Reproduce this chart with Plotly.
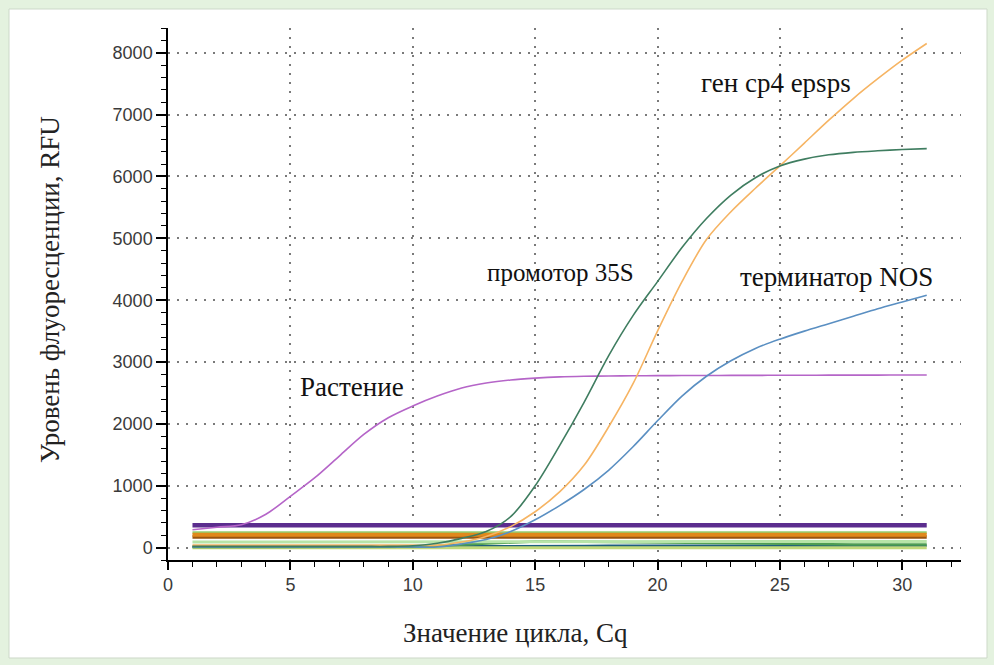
import plotly.graph_objects as go

cycles = list(range(1, 32))

plant = [290, 330, 370, 540, 830, 1130, 1480, 1830, 2100, 2290, 2450, 2580, 2660, 2710, 2740,
         2760, 2770, 2775, 2778, 2780, 2782, 2783, 2784, 2785, 2786, 2787, 2788, 2788, 2789, 2790, 2790]
promoter_35s = [20, 20, 20, 20, 20, 20, 20, 20, 20, 30, 70, 150, 260, 500, 1000,
                1650, 2350, 3100, 3750, 4300, 4850, 5320, 5700, 5980, 6170, 6280, 6350, 6390, 6415, 6435, 6450]
gene_epsps = [40, 40, 40, 40, 40, 40, 40, 40, 40, 40, 40, 90, 180, 340, 580,
              900, 1330, 1950, 2650, 3500, 4300, 4980, 5430, 5810, 6170, 6540, 6910, 7260, 7580, 7880, 8150]
terminator_nos = [10, 10, 10, 10, 10, 10, 10, 10, 10, 10, 10, 60, 130, 260, 450,
                  680, 940, 1250, 1630, 2050, 2450, 2770, 3020, 3220, 3370, 3500, 3620, 3740, 3860, 3970, 4080]

neg_purple = [360, 360, 360, 360, 360, 360, 360, 360, 360, 360, 360, 360, 360, 360, 360, 360,
              360, 360, 360, 360, 360, 360, 360, 360, 360, 360, 360, 360, 360, 360, 360]
neg_lightgreen = [245, 245, 245, 245, 245, 245, 245, 245, 245, 245, 245, 245, 245, 245, 245, 245,
                  245, 245, 245, 245, 245, 245, 245, 245, 245, 245, 245, 245, 245, 245, 245]
neg_orange = [210, 210, 210, 210, 210, 210, 210, 210, 210, 210, 210, 210, 210, 210, 210, 210,
              210, 210, 210, 210, 210, 210, 210, 210, 210, 210, 210, 210, 210, 210, 210]
neg_brown = [170, 170, 170, 170, 170, 170, 170, 170, 170, 170, 170, 170, 170, 170, 170, 170,
             170, 170, 170, 170, 170, 170, 170, 170, 170, 170, 170, 170, 170, 170, 170]
neg_palegreen = [90, 90, 90, 90, 90, 90, 90, 90, 90, 90, 90, 90, 95, 100, 100, 100,
                 100, 100, 100, 100, 100, 100, 100, 100, 100, 100, 100, 100, 100, 100, 100]
neg_green = [10, 10, 10, 10, 10, 10, 10, 10, 10, 15, 30, 50, 70, 90, 100, 100,
             95, 90, 85, 80, 75, 70, 65, 60, 55, 55, 50, 50, 50, 50, 50]
neg_yellowgreen = [0, 0, 0, 0, 0, 0, 0, 0, 0, 0, 0, 0, 0, 0, 0, 0,
                   0, 0, 0, 0, 0, 0, 0, 0, 0, 0, 0, 0, 0, 0, 0]
neg_teal = [15, 15, 15, 15, 15, 15, 15, 15, 15, 15, 20, 20, 25, 25, 25, 25,
            25, 30, 30, 30, 30, 30, 30, 30, 30, 30, 30, 30, 30, 30, 30]

x_ticks = [0, 5, 10, 15, 20, 25, 30]
y_ticks = [0, 1000, 2000, 3000, 4000, 5000, 6000, 7000, 8000]

fig = go.Figure()

flat = [
    (neg_teal, "#1d5f7e", 2.5),
    (neg_yellowgreen, "#c2d97a", 3),
    (neg_green, "#4f9e52", 2.5),
    (neg_palegreen, "#b7e4a8", 3),
    (neg_lightgreen, "#93cf72", 2.5),
    (neg_brown, "#9a5510", 3.5),
    (neg_orange, "#e0891c", 4),
    (neg_purple, "#5b2d8e", 4.5),
]
for vals, col, w in flat:
    fig.add_trace(go.Scatter(x=cycles, y=vals, mode="lines",
                             line=dict(color=col, width=w), showlegend=False))

main = [
    (plant, "#b565c8"),
    (terminator_nos, "#5a8fc2"),
    (gene_epsps, "#f6b463"),
    (promoter_35s, "#3f7d60"),
]
for vals, col in main:
    fig.add_trace(go.Scatter(x=cycles, y=vals, mode="lines", line_shape="spline",
                             line=dict(color=col, width=1.6, smoothing=0.9), showlegend=False))

tickfont = dict(family='"Liberation Sans Narrow", "Liberation Sans", sans-serif',
                size=18, color="#3a3a3a")
serif = '"Liberation Serif", serif'

X_RANGE = [0, 32.4]
Y_RANGE = [-200, 8400]
GRID_DASH = "2px,7px"

fig.update_layout(
    width=994, height=665,
    margin=dict(l=168, r=33, t=28, b=105),
    paper_bgcolor="#e4f2df",
    plot_bgcolor="white",
    xaxis=dict(range=X_RANGE, tickvals=x_ticks, ticks="outside", ticklen=8, tickwidth=1.5,
               tickcolor="black", showline=True, linecolor="black", linewidth=1.5,
               showgrid=True, gridcolor="#7a7a7a", griddash=GRID_DASH, gridwidth=1.5,
               zeroline=False, tickfont=tickfont,
               minor=dict(dtick=1, tick0=0, ticks="outside", ticklen=5, tickcolor="black",
                          tickwidth=1.2, showgrid=False)),
    xaxis2=dict(range=X_RANGE, overlaying="x", anchor="y", side="bottom", tickvals=x_ticks,
                ticks="inside", ticklen=8, tickwidth=1.5, tickcolor="black",
                showticklabels=False, showgrid=False, zeroline=False, showline=False,
                minor=dict(dtick=1, tick0=0, ticks="inside", ticklen=5, tickcolor="black",
                           tickwidth=1.2, showgrid=False)),
    yaxis=dict(range=Y_RANGE, tickvals=y_ticks, ticks="outside", ticklen=10, tickwidth=1.5,
               tickcolor="black", showline=True, linecolor="black", linewidth=1.5,
               showgrid=True, gridcolor="#7a7a7a", griddash=GRID_DASH, gridwidth=1.5,
               zeroline=False, tickfont=tickfont,
               minor=dict(dtick=200, tick0=0, ticks="outside", ticklen=5, tickcolor="black",
                          tickwidth=1.2, showgrid=False)),
    yaxis2=dict(range=Y_RANGE, overlaying="y", anchor="x", side="left", tickvals=y_ticks,
                ticks="inside", ticklen=10, tickwidth=1.5, tickcolor="black",
                showticklabels=False, showgrid=False, zeroline=False, showline=False,
                minor=dict(dtick=200, tick0=0, ticks="inside", ticklen=5, tickcolor="black",
                           tickwidth=1.2, showgrid=False)),
    yaxis3=dict(range=Y_RANGE, overlaying="y", anchor="x", side="right", tickvals=y_ticks,
                ticks="inside", ticklen=7, tickwidth=1.5, tickcolor="black",
                showticklabels=False, showgrid=False, zeroline=False, showline=True,
                linecolor="black", linewidth=1.5,
                minor=dict(dtick=200, tick0=0, ticks="inside", ticklen=4, tickcolor="black",
                           tickwidth=1.2, showgrid=False)),
    shapes=[dict(type="rect", xref="paper", yref="paper", layer="below",
                 x0=-0.2005, x1=1.0328, y0=-0.1842, y1=1.0357,
                 fillcolor="white", line=dict(color="#cdd9c9", width=1))],
    annotations=[
        dict(text="Значение цикла, Cq", xref="paper", yref="paper", x=0.4376, y=-0.137,
             showarrow=False, font=dict(family=serif, size=27, color="#222222"),
             xanchor="center", yanchor="middle"),
        dict(text="Уровень флуоресценции, RFU", xref="paper", yref="paper", x=-0.1488, y=0.5075,
             showarrow=False, textangle=-90, font=dict(family=serif, size=27, color="#222222"),
             xanchor="center", yanchor="middle"),
        dict(text="ген cp4 epsps", x=24.85, y=7516, showarrow=False,
             font=dict(family=serif, size=27, color="#111111")),
        dict(text="промотор 35S", x=16.02, y=4452, showarrow=False,
             font=dict(family=serif, size=25, color="#111111")),
        dict(text="терминатор NOS", x=27.3, y=4371, showarrow=False,
             font=dict(family=serif, size=27, color="#111111")),
        dict(text="Растение", x=7.52, y=2597, showarrow=False,
             font=dict(family=serif, size=27, color="#111111")),
    ],
)

fig.write_html(
    "out.html",
    config={"displayModeBar": False},
    post_script="document.body.style.margin='0';document.body.style.background='#e4f2df';",
)
